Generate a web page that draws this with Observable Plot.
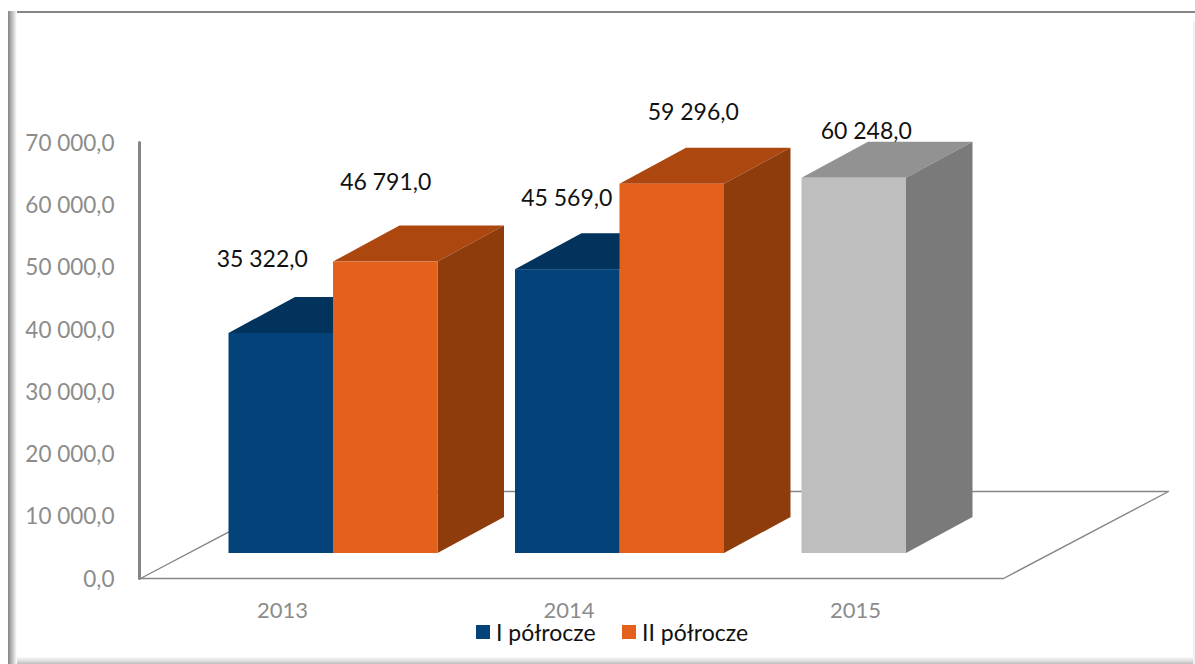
<!DOCTYPE html>
<html lang="pl">
<head>
<meta charset="utf-8">
<script src="https://cdn.jsdelivr.net/npm/d3@7"></script>
<script src="https://cdn.jsdelivr.net/npm/@observablehq/plot@0.6"></script>
<style>
  html, body { margin: 0; padding: 0; background: #fff; }
  #page { position: relative; width: 1195px; height: 664px; overflow: hidden; font-family: Lato, sans-serif; }
  #page svg { display: block; overflow: visible; position: relative; background: transparent !important; }
  .frame { position: absolute; }
  #top { left: 8px; right: 0; top: 11px; height: 2px; background: #868686; }
  #left { left: 8px; top: 11px; bottom: 0; width: 9px; background: linear-gradient(to right, #858585, #b5b5b5 40%, #f4f4f4 90%, #fff); }
  #bottom { left: 17px; right: 0; top: 657px; bottom: 0; background: linear-gradient(to bottom, #fafafa, #dcdcdc 60%, #bdbdbd); }
  #right { right: 0; top: 22px; bottom: 0; width: 2px; background: #f0f0f0; }
  #legend { position: relative; height: 20px; font-size: 23px; line-height: 20px; color: #111; }
  #legend span { position: absolute; top: 0; white-space: nowrap; }
  #legend i { position: absolute; top: 3px; width: 14px; height: 14px; }
</style>
</head>
<body>
<div id="page">
  <div class="frame" id="top"></div>
  <div class="frame" id="left"></div>
  <div class="frame" id="bottom"></div>
  <div class="frame" id="right"></div>
  <div id="chart"></div>
  <div id="legend"></div>
</div>
<script>
const years = ["2013", "2014", "2015"];
const seriesNames = ["I półrocze", "II półrocze"];
const firstHalf = [35322, 45569, 60248];
const secondHalf = [46791, 59296];
const yTicks = [0, 10000, 20000, 30000, 40000, 50000, 60000, 70000];

// front, top, side face colours
const blueFaces = ["#03437A", "#02335C", "#02335C"];
const orangeFaces = ["#E3611A", "#AC4710", "#8F3C0C"];
const greyFaces = ["#BEBEBE", "#929292", "#7A7A7A"];

// 3D geometry, in data units of the two scales
const pxX = 286.5;               // pixels for one category
const pxY = 436 / 70000;         // pixels for one value unit
const barWidth = 104.5 / pxX;
const groupShift = 51 / pxX;
const depthX = 66.5 / pxX;
const depthY = 36 / pxY;
const lift = 25 / pxY;
const floorX = 165 / pxX;
const floorY = 87 / pxY;
const floorLeft = -142 / pxX;
const floorEnd = 2 + (1003 - 855) / pxX;

// label nudges [right, up] in pixels from the top-centre of a bar's front face
const labelNudgesFirst = [[-19, 74], [-1, 71], [12, 47]];
const labelNudgesSecond = [[0, 79], [21, 72]];

const fmt = d3.formatLocale({decimal: ",", thousands: "\u00a0", grouping: [3]}).format(",.1f");

function makeBars(values, side, faces, nudges) {
  return values.map((value, i) => {
    const c = i + groupShift;
    const f = i === 2 ? greyFaces : faces;
    return {
      key: `${side}-${i}`, value,
      x1: side === 0 ? c - barWidth : c,
      x2: side === 0 ? c : c + barWidth,
      faces: f, nudge: nudges[i]
    };
  });
}
const barsI = makeBars(firstHalf, 0, blueFaces, labelNudgesFirst);
const barsII = makeBars(secondHalf, 1, orangeFaces, labelNudgesSecond);

function barMarks(bars) {
  const topPts = bars.flatMap(b => [
    {key: b.key, fill: b.faces[1], y: lift + b.value, x1: b.x1, x2: b.x2},
    {key: b.key, fill: b.faces[1], y: lift + b.value + depthY, x1: b.x1 + depthX, x2: b.x2 + depthX}
  ]);
  const sidePts = bars.flatMap(b => [
    {key: b.key, fill: b.faces[2], x: b.x2, y1: lift, y2: lift + b.value},
    {key: b.key, fill: b.faces[2], x: b.x2 + depthX, y1: lift + depthY, y2: lift + b.value + depthY}
  ]);
  return [
    Plot.areaX(topPts, {y: "y", x1: "x1", x2: "x2", z: "key", fill: "fill"}),
    Plot.areaY(sidePts, {x: "x", y1: "y1", y2: "y2", z: "key", fill: "fill"}),
    Plot.rect(bars, {x1: "x1", x2: "x2", y1: () => lift, y2: d => lift + d.value, fill: d => d.faces[0], inset: 0})
  ];
}

const floorEdges = [
  {x: floorLeft, y: 0},
  {x: floorLeft + floorX, y: floorY},
  {x: floorEnd + floorX, y: floorY},
  {x: floorEnd, y: 0},
  {x: floorLeft, y: 0}
];
const wall = [{x: floorLeft, y: 0}, {x: floorLeft, y: 70000}];

const labelRows = [...barsI, ...barsII];

const chart = Plot.plot({
  width: 1195,
  height: 622,
  marginTop: 142,
  marginBottom: 44,
  marginLeft: 140,
  marginRight: 192,
  style: {background: "transparent", fontFamily: "Lato, sans-serif"},
  color: {type: "identity"},
  x: {type: "linear", domain: [floorLeft, floorEnd], label: null},
  y: {domain: [0, 70000], label: null},
  marks: [
    Plot.axisY({ticks: yTicks, tickFormat: fmt, tickSize: 0, tickPadding: 26, label: null,
      fontSize: 22.5, color: "#8c8c8c", dy: 1}),
    Plot.axisX({ticks: [0, 1, 2], tickFormat: i => years[i], tickSize: 0, tickPadding: 24, label: null,
      fontSize: 22, color: "#8c8c8c"}),
    Plot.line(floorEdges, {x: "x", y: "y", stroke: "#868686", strokeWidth: 1.4}),
    Plot.line(wall, {x: "x", y: "y", stroke: "#868686", strokeWidth: 3, dx: -1}),
    ...barMarks(barsI),
    ...barMarks(barsII),
    Plot.text(labelRows, {
      x: d => (d.x1 + d.x2) / 2 + d.nudge[0] / pxX,
      y: d => lift + d.value + d.nudge[1] / pxY,
      text: d => fmt(d.value),
      fill: "#111",
      fontSize: 23
    })
  ]
});
document.getElementById("chart").append(chart);

const legend = document.getElementById("legend");
const legendSwatches = [[476, blueFaces[0]], [622, orangeFaces[0]]];
seriesNames.forEach((name, i) => {
  const sw = document.createElement("i");
  sw.style.left = legendSwatches[i][0] + "px";
  sw.style.background = legendSwatches[i][1];
  const t = document.createElement("span");
  t.style.left = (legendSwatches[i][0] + 20) + "px";
  t.textContent = name;
  legend.append(sw, t);
});
</script>
</body>
</html>
